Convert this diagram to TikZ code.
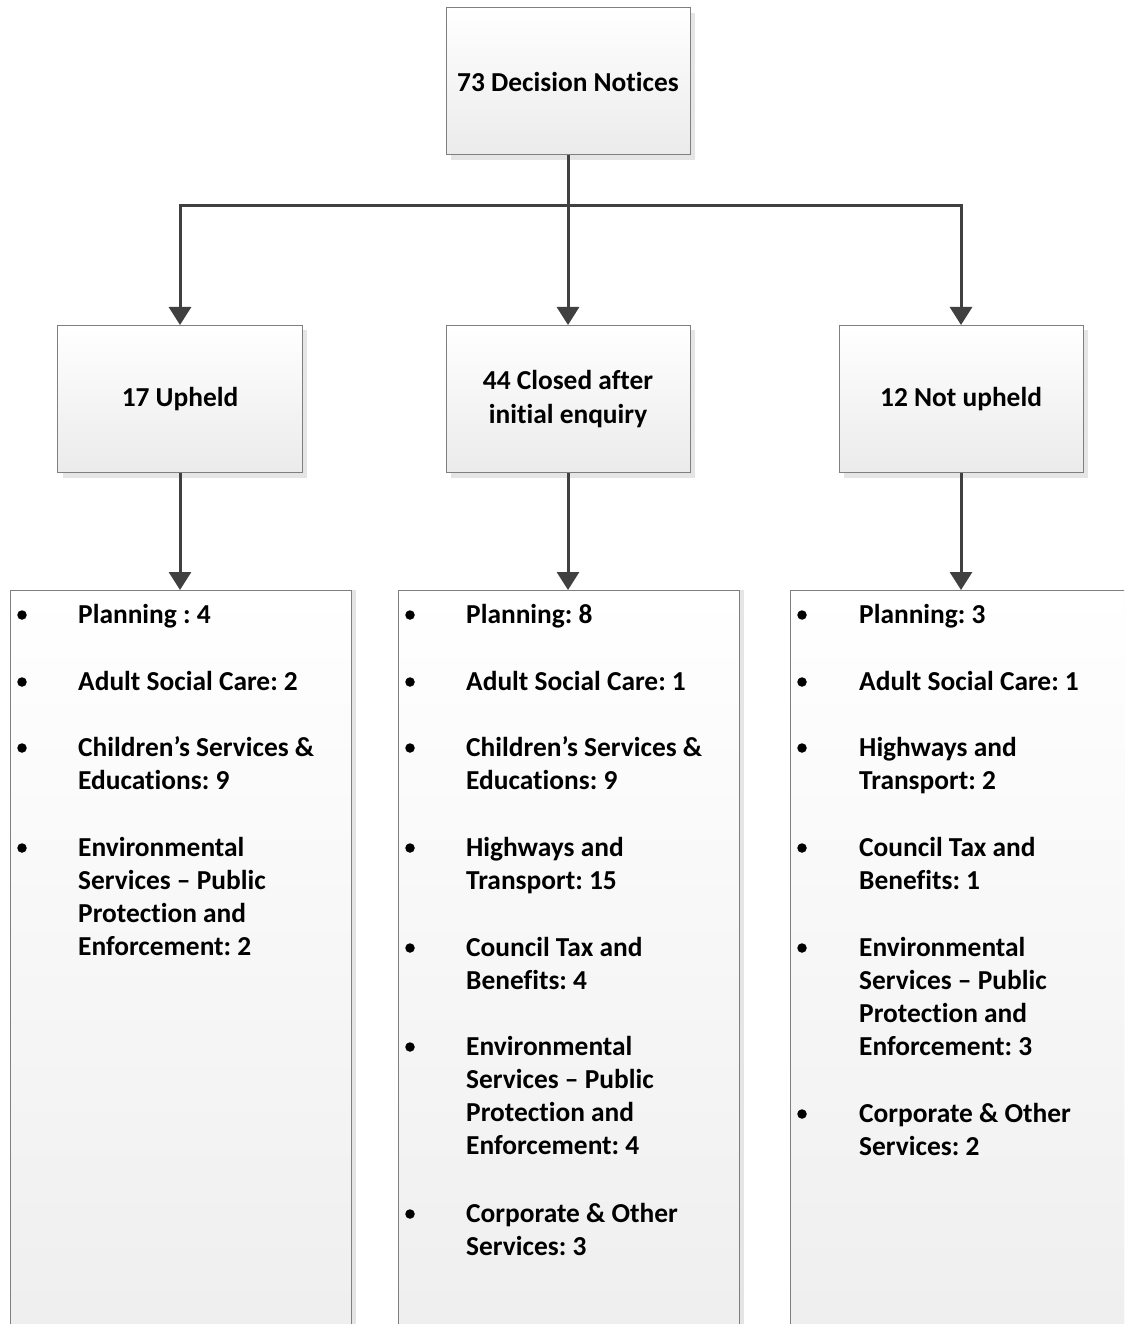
\documentclass[tikz,border=0pt]{standalone}
\usepackage{fontspec}
\setmainfont[Ligatures=CommonOff]{Carlito}
\usetikzlibrary{arrows.meta,shadows}
\definecolor{lineC}{HTML}{404040}
\definecolor{borderC}{HTML}{7F7F7F}
\definecolor{shadeB}{HTML}{EBEBEB}
\frenchspacing
\tikzset{
  x=1bp,y=-1bp,
  box/.style={draw=borderC,line width=1bp,top color=white,bottom color=shadeB,
    inner sep=0pt,font=\bfseries\fontsize{27.5}{34}\selectfont,align=center,
    drop shadow={shadow xshift=5bp,shadow yshift=-5bp,fill=black!10,opacity=1}},
  listbox/.style={draw=borderC,line width=1bp,top color=white,bottom color=shadeB!85!white,
    drop shadow={shadow xshift=5bp,shadow yshift=0bp,fill=black!10,opacity=1}},
  conn/.style={draw=lineC,line width=3bp,-{Triangle[width=22bp,length=18bp]}},
  itemtxt/.style={anchor=north west,inner sep=0pt,align=left,
    font=\bfseries\fontsize{27.5}{33.2}\selectfont},
  bul/.style={circle,fill=black,inner sep=0pt,minimum size=9.5bp}
}
% \entry{name}{bulletx}{textx}{centery}{text}
\newcommand{\entry}[5]{%
  \node[bul] (#1b) at (#2,#4+1) {};
  \node[itemtxt] (#1) at (#3,#4-14.3) {\strut #5};
}
\begin{document}
\begin{tikzpicture}
\useasboundingbox (0,0) rectangle (1124,1324);
\clip (0,0) rectangle (1124,1324);
% top box
\node[box,minimum width=244bp,minimum height=147bp] (top) at (568,81.5) {73 Decision Notices};
% middle boxes
\node[box,minimum width=244bp,minimum height=147bp] (up) at (180,399) {17 Upheld};
\node[box,minimum width=244bp,minimum height=147bp] (cl) at (568,399) {44 Closed after\\initial enquiry};
\node[box,minimum width=244bp,minimum height=147bp] (nu) at (961,399) {12 Not upheld};
% bottom boxes (cut by page edge)
\path[listbox] (10,590) rectangle (351,1360);
\path[listbox] (398,590) rectangle (739,1360);
\path[listbox] (790,590) rectangle (1160,1360);
\coordinate (ul) at (180,590);
\coordinate (cll) at (568,590);
\coordinate (nul) at (961,590);
% connectors
\draw[conn] (top.south) -- ++(0,50) -| (up.north);
\draw[conn] (top.south) -- (cl.north);
\draw[conn] (top.south) -- ++(0,50) -| (nu.north);
\draw[conn] (up.south) -- (ul);
\draw[conn] (cl.south) -- (cll);
\draw[conn] (nu.south) -- (nul);
% left list
\entry{a1}{22}{78}{614}{Planning : 4}
\entry{a2}{22}{78}{681}{Adult Social Care: 2}
\entry{a3}{22}{78}{747}{Children’s Services \&\\Educations: 9}
\entry{a4}{22}{78}{847}{Environmental\\Services – Public\\Protection and\\Enforcement: 2}
% middle list
\entry{b1}{410}{466}{614}{Planning: 8}
\entry{b2}{410}{466}{681}{Adult Social Care: 1}
\entry{b3}{410}{466}{747}{Children’s Services \&\\Educations: 9}
\entry{b4}{410}{466}{847}{Highways and\\Transport: 15}
\entry{b5}{410}{466}{947}{Council Tax and\\Benefits: 4}
\entry{b6}{410}{466}{1046}{Environmental\\Services – Public\\Protection and\\Enforcement: 4}
\entry{b7}{410}{466}{1213}{Corporate \& Other\\Services: 3}
% right list
\entry{c1}{802}{859}{614}{Planning: 3}
\entry{c2}{802}{859}{681}{Adult Social Care: 1}
\entry{c3}{802}{859}{747}{Highways and\\Transport: 2}
\entry{c4}{802}{859}{847}{Council Tax and\\Benefits: 1}
\entry{c5}{802}{859}{947}{Environmental\\Services – Public\\Protection and\\Enforcement: 3}
\entry{c6}{802}{859}{1113}{Corporate \& Other\\Services: 2}
\end{tikzpicture}
\end{document}
